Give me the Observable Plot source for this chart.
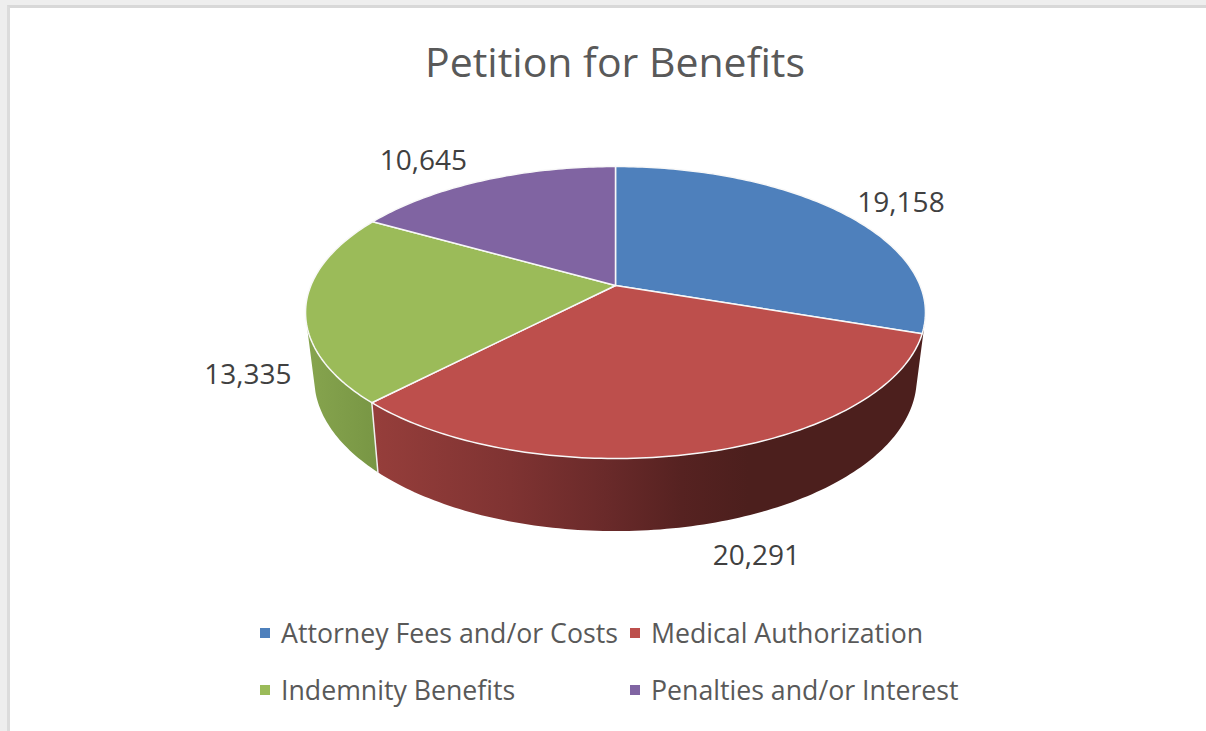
<!DOCTYPE html>
<html>
<head>
<meta charset="utf-8">
<script src="https://cdn.jsdelivr.net/npm/d3@7"></script>
<script src="https://cdn.jsdelivr.net/npm/@observablehq/plot@0.6"></script>
<style>
  html, body { margin: 0; padding: 0; width: 1206px; height: 731px; overflow: hidden; background: #eeeeee; }
  .frame { position: absolute; left: 7px; top: 5px; width: 1199px; height: 726px;
           box-sizing: border-box; border-left: 3px solid #dcdcdc; border-top: 3px solid #d8d8d8;
           background: #ffffff; font-family: "Open Sans", sans-serif; }
  .title { height: 92px; box-sizing: border-box; padding-top: 25px; text-align: center;
           width: 1210px; font-size: 41px; line-height: 56px; color: #595959; }
  #chart svg { display: block; }
  .legend { display: grid; grid-template-columns: 370px 370px; grid-auto-rows: 57px; margin-left: 250px;
            margin-top: 4px; font-size: 26.7px; line-height: 57px; color: #595959; }
  .legend div { display: flex; align-items: center; white-space: nowrap; }
  .legend i { width: 10px; height: 10px; margin-right: 11px; flex: none; }
</style>
</head>
<body>
<div class="frame">
  <div class="title">Petition for Benefits</div>
  <div id="chart"></div>
  <div class="legend" id="legend"></div>
</div>
<script>
const categories = ["Attorney Fees and/or Costs", "Medical Authorization", "Indemnity Benefits", "Penalties and/or Interest"];
const values = [19158, 20291, 13335, 10645];
const colors = ["#4e80bc", "#bd4f4c", "#9bbb59", "#8064a2"];

// Pixel offsets of each value label from the rim point at its slice's middle angle.
const labelDx = [62, 53, -58, -60];
const labelDy = [-8, 104, 69, -19];

// Perspective of the disc: the top face and the bottom face, in units of the x and y scales.
const topFace = {scale: 1, shift: 0, stretch: 1, tilt: 0.185};
const bottomFace = {scale: 0.971, shift: -0.454, stretch: 1.043, tilt: 0.19};

const project = (deg, f) => {
  const a = deg * Math.PI / 180, u = Math.sin(a), v = Math.cos(a), d = 1 + f.tilt * v;
  return {x: f.scale * u / d, y: f.shift + f.stretch * v / d};
};

const total = d3.sum(values);
const ends = d3.cumsum(values).map((c) => c / total * 360);
const starts = ends.map((_, i) => (i ? ends[i - 1] : 0));

const arc = (from, to, f) => {
  const n = Math.max(2, Math.ceil(to - from));
  return d3.range(n + 1).map((i) => project(from + (to - from) * i / n, f));
};

// Top face: one closed outline per slice, from the centre around the rim.
const sliceRows = categories.flatMap((category, i) => {
  const centre = project(0, {...topFace, scale: 0, stretch: 0});
  return [centre, ...arc(starts[i], ends[i], topFace), centre].map((p) => ({...p, category}));
});

// Side wall between two angles; the part behind the rim is covered by the top face.
const wall = (from, to) => {
  const top = arc(from, to, topFace), bottom = arc(from, to, bottomFace).reverse();
  return [...top, ...bottom, top[0]];
};
const redWall = wall(104, ends[1]);
const greenWall = wall(ends[1], 254);
const wallSeam = [project(ends[1], topFace), project(ends[1], bottomFace)];

const gradient = (id, stops) => () => {
  const defs = d3.create("svg:defs");
  const g = defs.append("linearGradient").attr("id", id).attr("x1", 0).attr("x2", 1).attr("y1", 0).attr("y2", 0);
  stops.forEach(([o, c]) => g.append("stop").attr("offset", o).attr("stop-color", c));
  return defs.node();
};

const labels = categories.map((category, i) => ({
  ...project((starts[i] + ends[i]) / 2, topFace),
  text: d3.format(",")(values[i]), dx: labelDx[i], dy: labelDy[i]
}));

const chart = Plot.plot({
  width: 1196,
  height: 500,
  margin: 0,
  style: {background: "transparent", fontFamily: "'Open Sans', sans-serif", overflow: "visible"},
  x: {axis: null, domain: [-1, 1], range: [300.4, 909.6]},
  y: {axis: null, domain: [-1, 1], range: [326, 44]},
  color: {domain: categories, range: colors},
  marks: [
    gradient("wall-red", [[0, "#963e3b"], [0.25, "#7f3332"], [0.42, "#6a2a2a"], [0.56, "#562221"], [0.68, "#4c1f1d"], [1, "#4c1f1d"]]),
    gradient("wall-green", [[0, "#86a44e"], [1, "#789644"]]),
    Plot.line(greenWall, {x: "x", y: "y", fill: "url(#wall-green)", stroke: "none"}),
    Plot.line(redWall, {x: "x", y: "y", fill: "url(#wall-red)", stroke: "none"}),
    Plot.line(wallSeam, {x: "x", y: "y", stroke: "#f0f0f0", strokeWidth: 1.5}),
    Plot.line(sliceRows, {x: "x", y: "y", z: "category", fill: "category", stroke: "#f8f8f8", strokeWidth: 1.5, strokeLinejoin: "round"}),
    ...labels.map((l) => Plot.text([l], {x: "x", y: "y", text: "text", dx: l.dx, dy: l.dy, fontSize: 28, fill: "#404040"}))
  ]
});
document.getElementById("chart").append(chart);

const legend = d3.select("#legend");
categories.forEach((category, i) => {
  const item = legend.append("div");
  item.append("i").style("background", colors[i]);
  item.append("span").text(category);
});
</script>
</body>
</html>
